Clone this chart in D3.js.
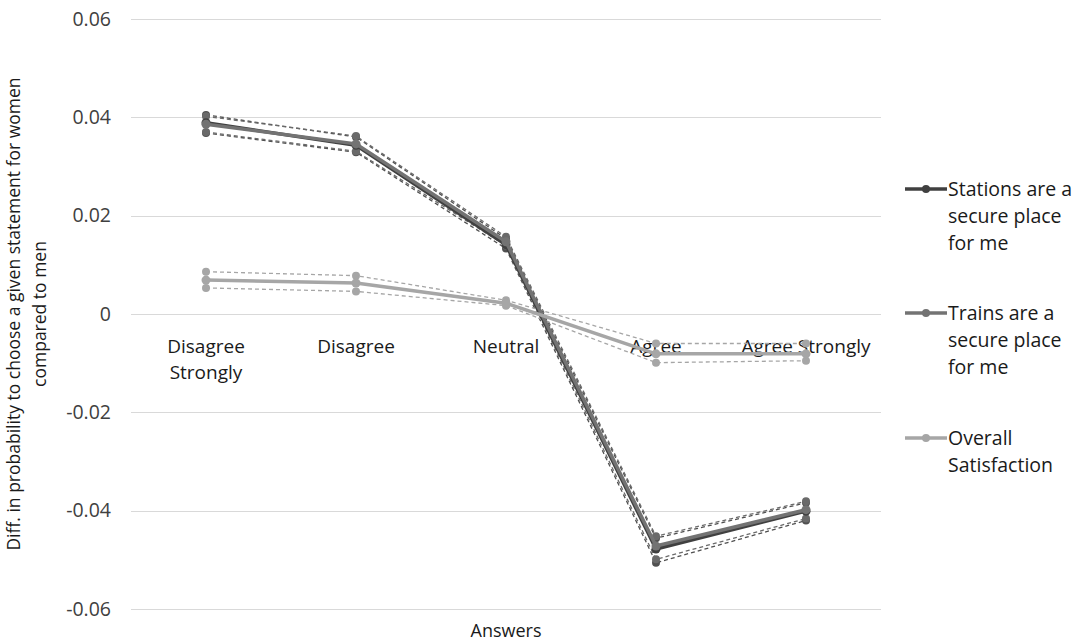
<!DOCTYPE html>
<html>
<head>
<meta charset="utf-8">
<script src="https://cdn.jsdelivr.net/npm/d3@7"></script>
<style>
  html, body { margin: 0; padding: 0; background: #fff; }
  svg { display: block; font-family: "Open Sans", sans-serif; }
</style>
</head>
<body>
<svg id="chart" width="1078" height="641"></svg>
<script>
// Answer categories and their axis labels (split onto lines)
const categories = ["Disagree Strongly", "Disagree", "Neutral", "Agree", "Agree Strongly"];
const categoryLabels = [["Disagree", "Strongly"], ["Disagree"], ["Neutral"], ["Agree"], ["Agree Strongly"]];
const yTicks = [-0.06, -0.04, -0.02, 0, 0.02, 0.04, 0.06];
const yTickLabels = ["-0.06", "-0.04", "-0.02", "0", "0.02", "0.04", "0.06"];

// Estimates with lower / upper bounds per series
const stations     = [0.0389, 0.0343, 0.0141, -0.0478, -0.0401];
const stationsLow  = [0.0368, 0.0329, 0.0133, -0.0506, -0.0420];
const stationsHigh = [0.0405, 0.0360, 0.0153, -0.0456, -0.0384];

const trains     = [0.0386, 0.0346, 0.0147, -0.0472, -0.0398];
const trainsLow  = [0.0370, 0.0331, 0.0139, -0.0499, -0.0416];
const trainsHigh = [0.0402, 0.0362, 0.0157, -0.0452, -0.0381];

const overall     = [0.0069, 0.0063, 0.0022, -0.0081, -0.0081];
const overallLow  = [0.0053, 0.0046, 0.0017, -0.0099, -0.0095];
const overallHigh = [0.0086, 0.0078, 0.0028, -0.0060, -0.0060];

const seriesNames = ["Stations are a secure place for me", "Trains are a secure place for me", "Overall Satisfaction"];
const legendLines = [["Stations are a", "secure place", "for me"], ["Trains are a", "secure place", "for me"], ["Overall", "Satisfaction"]];

const series = [
  { name: seriesNames[0], values: stations, low: stationsLow, high: stationsHigh, color: "#404040", band: "#505050" },
  { name: seriesNames[1], values: trains,   low: trainsLow,   high: trainsHigh,   color: "#737373", band: "#6a6a6a" },
  { name: seriesNames[2], values: overall,  low: overallLow,  high: overallHigh,  color: "#a6a6a6", band: "#a6a6a6" }
];

const svg = d3.select("#chart");
const plotLeft = 131, plotRight = 881, plotTop = 19, plotBottom = 609;

const x = d3.scalePoint().domain(categories).range([plotLeft, plotRight]).padding(0.5);
const y = d3.scaleLinear().domain([-0.06, 0.06]).range([plotBottom, plotTop]);

// Horizontal gridlines
svg.append("g")
  .selectAll("line")
  .data(yTicks)
  .join("line")
  .attr("x1", plotLeft).attr("x2", plotRight)
  .attr("y1", d => Math.round(y(d)) + 0.5).attr("y2", d => Math.round(y(d)) + 0.5)
  .attr("stroke", "#d9d9d9").attr("stroke-width", 1);

// Y tick labels
const yAxis = d3.axisLeft(y).tickValues(yTicks).tickSize(0).tickPadding(20)
  .tickFormat((d, i) => yTickLabels[i]);
const gy = svg.append("g").attr("transform", `translate(${plotLeft},0)`).call(yAxis);
gy.select(".domain").remove();
gy.selectAll("text").attr("font-size", 19.5).attr("fill", "#404040")
  .attr("font-family", "'Open Sans', sans-serif");

// Category labels just below the zero line
const catG = svg.append("g");
categories.forEach((c, i) => {
  const t = catG.append("text")
    .attr("x", x(c)).attr("y", y(0) + 39)
    .attr("text-anchor", "middle").attr("font-size", 19).attr("fill", "#1a1a1a");
  categoryLabels[i].forEach((ln, j) => {
    t.append("tspan").attr("x", x(c)).attr("dy", j === 0 ? 0 : 26).text(ln);
  });
});

const line = d3.line().x((d, i) => x(categories[i])).y(d => y(d));

// Dashed bounds first, then the estimate lines on top
series.forEach(s => {
  [s.low, s.high].forEach(b => {
    svg.append("path").datum(b)
      .attr("d", line).attr("fill", "none")
      .attr("stroke", s.band).attr("stroke-width", 1.3)
      .attr("stroke-dasharray", "4,3");
    svg.append("g").selectAll("circle").data(b).join("circle")
      .attr("cx", (d, i) => x(categories[i])).attr("cy", d => y(d))
      .attr("r", 4).attr("fill", s.band);
  });
});

series.forEach(s => {
  svg.append("path").datum(s.values)
    .attr("d", line).attr("fill", "none")
    .attr("stroke", s.color).attr("stroke-width", 3.5)
    .attr("stroke-linejoin", "round");
  svg.append("g").selectAll("circle").data(s.values).join("circle")
    .attr("cx", (d, i) => x(categories[i])).attr("cy", d => y(d))
    .attr("r", 4.5).attr("fill", s.color);
});

// Axis titles
svg.append("text")
  .attr("x", x("Neutral")).attr("y", 637)
  .attr("text-anchor", "middle").attr("font-size", 18).attr("fill", "#1a1a1a")
  .text("Answers");

const yt = svg.append("text")
  .attr("transform", `translate(28,${(plotTop + plotBottom) / 2}) rotate(-90)`)
  .attr("text-anchor", "middle").attr("font-size", 17.5).attr("fill", "#1a1a1a");
yt.append("tspan").attr("x", 0).attr("dy", -8).text("Diff. in probability to choose a given statement for women");
yt.append("tspan").attr("x", 0).attr("dy", 26).text("compared to men");

// Legend
const legendY = [189, 313, 438];
series.forEach((s, i) => {
  const g = svg.append("g").attr("transform", `translate(905,${legendY[i]})`);
  g.append("line").attr("x1", 0).attr("x2", 42).attr("y1", 0).attr("y2", 0)
    .attr("stroke", s.color).attr("stroke-width", 3.5);
  g.append("circle").attr("cx", 21).attr("cy", 0).attr("r", 4).attr("fill", s.color);
  const t = g.append("text").attr("x", 43).attr("y", 7)
    .attr("font-size", 19.5).attr("fill", "#1a1a1a");
  legendLines[i].forEach((ln, j) => {
    t.append("tspan").attr("x", 43).attr("dy", j === 0 ? 0 : 27).text(ln);
  });
});
</script>
</body>
</html>
